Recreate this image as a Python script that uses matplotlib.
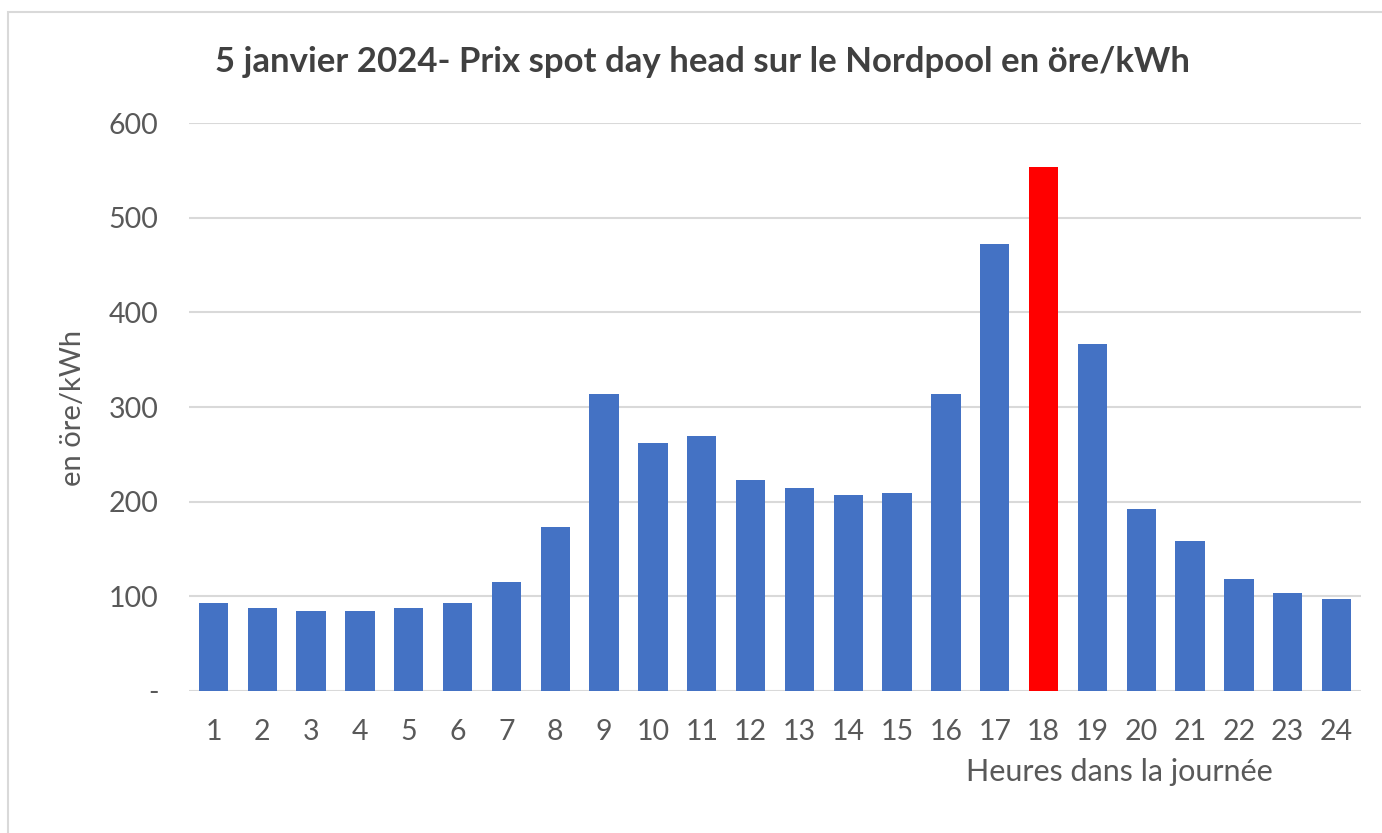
import matplotlib.pyplot as plt
from matplotlib.patches import Rectangle

hours = [str(h) for h in range(1, 25)]
prices = [93, 88, 84, 84, 88, 93, 115, 173, 314, 262, 269, 223,
          214, 207, 209, 314, 472, 554, 367, 192, 158, 118, 104, 97]
peak_hour = "18"
y_ticks = [0, 100, 200, 300, 400, 500, 600]
y_tick_labels = ["-", "100", "200", "300", "400", "500", "600"]

title = "5 janvier 2024- Prix spot day head sur le Nordpool en öre/kWh"
y_label = "en öre/kWh"
x_label = "Heures dans la journée"

blue = "#4472C4"
red = "#FF0000"
grey_txt = "#595959"

plt.rcParams['font.family'] = ['Lato', 'DejaVu Sans']

fig = plt.figure(figsize=(13.82, 8.33), dpi=100)
ax = fig.add_axes([0.1368, 0.1705, 0.848, 0.6818])

colors = [red if h == peak_hour else blue for h in hours]
ax.bar(hours, prices, width=0.6, color=colors, zorder=3)

ax.set_ylim(0, 600)
ax.set_xlim(-0.5, len(hours) - 0.5)
ax.set_yticks(y_ticks)
ax.set_yticklabels(y_tick_labels)
ax.grid(axis='y', color='#D9D9D9', lw=1.5, zorder=0)
for s in ax.spines.values():
    s.set_visible(False)
ax.tick_params(axis='both', length=0, labelsize=20.5, colors=grey_txt)
ax.tick_params(axis='x', pad=20)
ax.tick_params(axis='y', pad=22)

fig.text(0.5085, 0.925, title, ha='center', va='center', fontsize=25,
         fontweight='bold', color='#404040')
fig.text(0.053, 0.51, y_label, rotation=90, ha='center', va='center',
         fontsize=21, color=grey_txt)
fig.text(0.81, 0.073, x_label, ha='center', va='center', fontsize=22,
         color=grey_txt)

# light frame like the Excel chart area
fig.patches.append(Rectangle((0.0055, -0.1), 1.1, 1.0856, transform=fig.transFigure,
                             fill=False, edgecolor='#D9D9D9', lw=1.5))

plt.savefig("out.png", dpi=100)
